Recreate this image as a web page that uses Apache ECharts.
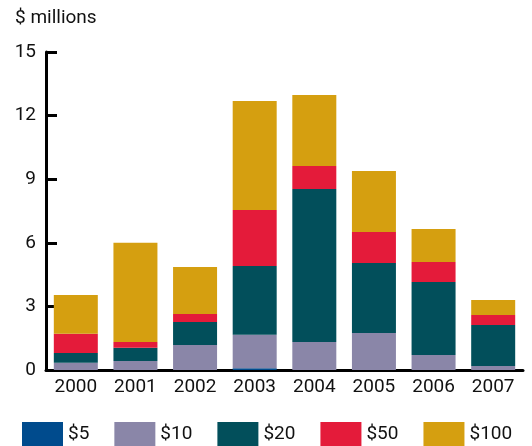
<!DOCTYPE html>
<html>
<head>
<meta charset="utf-8">
<script src="https://cdn.jsdelivr.net/npm/echarts@6/dist/echarts.min.js"></script>
<style>
  html, body { margin: 0; padding: 0; background: #fff; }
  #chart { width: 532px; height: 446px; }
</style>
</head>
<body>
<div id="chart"></div>
<script>
// values in $ millions
const years = ['2000', '2001', '2002', '2003', '2004', '2005', '2006', '2007']
const yTicks = [0, 3, 6, 9, 12, 15]
const d5 = [0, 0, 0, 0.08, 0, 0, 0, 0]
const d10 = [0.34, 0.42, 1.18, 1.58, 1.32, 1.75, 0.71, 0.19]
const d20 = [0.46, 0.63, 1.08, 3.24, 7.22, 3.3, 3.44, 1.93]
const d50 = [0.91, 0.27, 0.38, 2.65, 1.08, 1.46, 0.94, 0.47]
const d100 = [1.83, 4.68, 2.22, 5.14, 3.35, 2.88, 1.56, 0.71]

const seriesNames = ['$5', '$10', '$20', '$50', '$100']
const seriesData = [d5, d10, d20, d50, d100]
const colors = ['#004b8d', '#8a86a8', '#024f5b', '#e41b3a', '#d59f10']

const font = "Roboto, 'Noto Sans', sans-serif"

const chart = echarts.init(document.getElementById('chart'))

chart.setOption({
  animation: false,
  color: colors,
  textStyle: { fontFamily: font },
  title: {
    text: '$ millions',
    left: 15,
    top: 9,
    padding: 0,
    textStyle: { fontSize: 19, fontWeight: 'normal', color: '#111', fontFamily: font },
  },
  legend: {
    data: seriesNames,
    left: 22,
    top: 422,
    padding: 0,
    icon: 'rect',
    itemWidth: 41,
    itemHeight: 24,
    itemGap: 25,
    textStyle: { fontSize: 19, color: '#111', fontFamily: font },
  },
  grid: {
    left: 46,
    right: 9,
    top: 52,
    bottom: 76,
  },
  xAxis: {
    type: 'category',
    data: years,
    axisLine: { lineStyle: { color: '#000', width: 3 } },
    axisTick: { inside: true, length: 7, lineStyle: { color: '#000', width: 3 } },
    axisLabel: { fontSize: 19, color: '#111', margin: 8, fontFamily: font },
  },
  yAxis: {
    type: 'value',
    min: yTicks[0],
    max: yTicks[yTicks.length - 1],
    interval: 3,
    axisLine: { show: true, lineStyle: { color: '#000', width: 3 } },
    axisTick: { show: true, inside: true, length: 11, lineStyle: { color: '#000', width: 3 } },
    axisLabel: { fontSize: 19, color: '#111', margin: 10, fontFamily: font },
    splitLine: { show: false },
  },
  series: seriesNames.map((name, i) => ({
    name,
    type: 'bar',
    stack: 'total',
    barWidth: 44,
    data: seriesData[i],
  })),
})
</script>
</body>
</html>
